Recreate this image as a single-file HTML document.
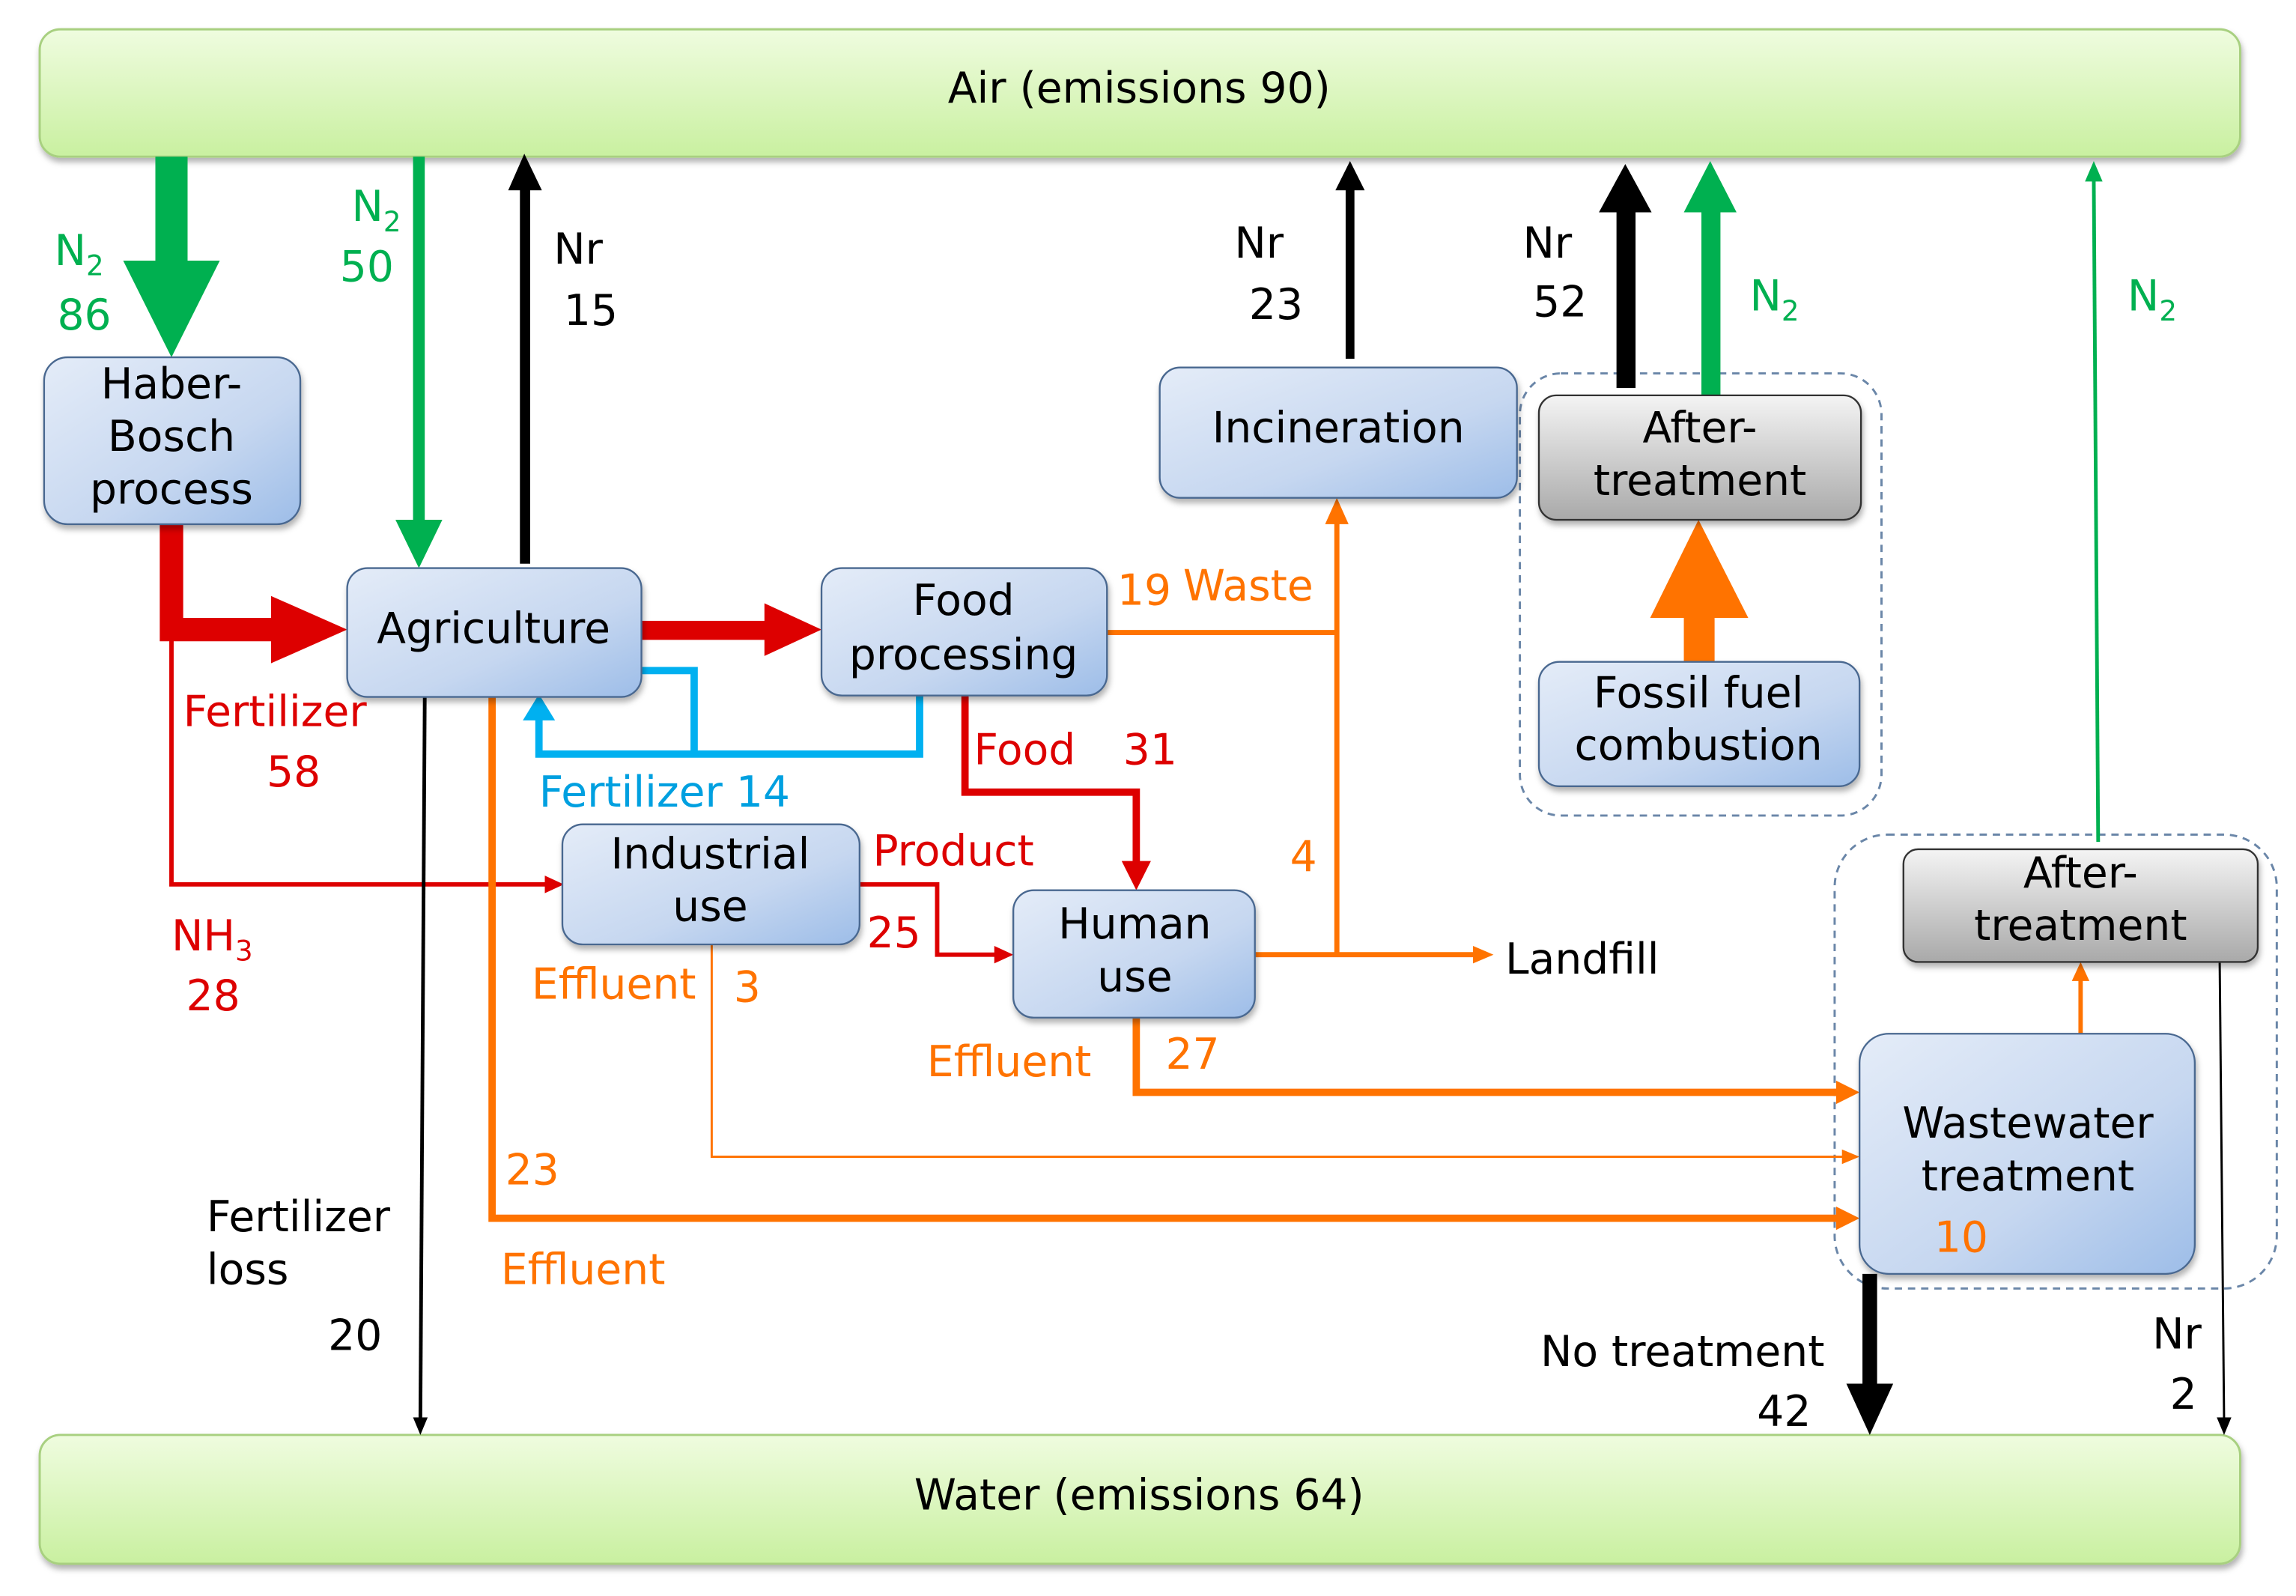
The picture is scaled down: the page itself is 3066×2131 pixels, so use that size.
<!DOCTYPE html>
<html><head><meta charset="utf-8"><style>
html,body{margin:0;padding:0;background:#fff;}
svg{display:block;}
text{font-family:"DejaVu Sans","Liberation Sans",sans-serif;font-size:29px;}
</style></head><body>
<svg width="3066" height="2131" viewBox="0 0 1568 1090" xmlns="http://www.w3.org/2000/svg">
<defs>
<linearGradient id="gr" x1="0" y1="0" x2="0" y2="1"><stop offset="0" stop-color="#effcdf"/><stop offset="1" stop-color="#c9f0a0"/></linearGradient>
<linearGradient id="bl" x1="0" y1="0" x2="1" y2="1"><stop offset="0" stop-color="#e4ecf8"/><stop offset="0.6" stop-color="#c6d7f0"/><stop offset="1" stop-color="#9dbde8"/></linearGradient>
<linearGradient id="gy" x1="0" y1="0" x2="0" y2="1"><stop offset="0" stop-color="#f4f4f4"/><stop offset="1" stop-color="#a9a9a9"/></linearGradient>
<filter id="sh" x="-10%" y="-10%" width="120%" height="130%"><feDropShadow dx="1" dy="3" stdDeviation="2" flood-color="#000" flood-opacity="0.3"/></filter>
</defs>

<!-- bars -->
<rect x="27" y="20" width="1503" height="87" rx="14" fill="url(#gr)" stroke="#a8d080" stroke-width="1.5" filter="url(#sh)"/>
<text x="778" y="70" text-anchor="middle">Air (emissions 90)</text>
<rect x="27" y="980" width="1503" height="88" rx="14" fill="url(#gr)" stroke="#a8d080" stroke-width="1.5" filter="url(#sh)"/>
<text x="778" y="1031" text-anchor="middle">Water (emissions 64)</text>

<!-- dashed groups -->
<rect x="1038" y="255" width="247" height="302" rx="28" fill="none" stroke="#6a86a8" stroke-width="1.5" stroke-dasharray="5,4"/>
<rect x="1253" y="570" width="302" height="310" rx="36" fill="none" stroke="#6a86a8" stroke-width="1.5" stroke-dasharray="5,4"/>

<!-- connectors -->
<!-- green thick N2 86 -->
<rect x="106" y="107" width="22" height="72" fill="#00b050"/>
<polygon points="84,178 150,178 117,244" fill="#00b050"/>
<!-- green N2 50 -->
<rect x="282" y="107" width="8" height="250" fill="#00b050"/>
<polygon points="270,355 302,355 286,388" fill="#00b050"/>
<!-- black Nr 15 -->
<rect x="355" y="128" width="7" height="257" fill="#000"/>
<polygon points="347,130 370,130 358,105" fill="#000"/>
<!-- red thick HB->Agri -->
<path d="M117,358 V430 H192" fill="none" stroke="#dd0000" stroke-width="16"/>
<polygon points="185,407 237,430 185,453" fill="#dd0000"/>
<!-- red thin NH3 -->
<path d="M117,430 V604 H375" fill="none" stroke="#dd0000" stroke-width="3"/>
<polygon points="372,598 385,604 372,610" fill="#dd0000"/>
<!-- red Agri->Food -->
<rect x="438" y="424" width="88" height="13" fill="#dd0000"/>
<polygon points="522,412 561,430 522,448" fill="#dd0000"/>
<!-- blue loop -->
<path d="M438,458 H474 V515 M628,475 V515 H368 V488" fill="none" stroke="#00b0f0" stroke-width="5"/>
<polygon points="357,492 379,492 368,474" fill="#00b0f0"/>
<!-- orange waste -->
<path d="M756,432 H913 M913,652 V356" fill="none" stroke="#ff7300" stroke-width="3.5"/>
<polygon points="905,358 921,358 913,340" fill="#ff7300"/>
<path d="M857,652 H1008" fill="none" stroke="#ff7300" stroke-width="3.5"/>
<polygon points="1006,646 1020,652 1006,658" fill="#ff7300"/>
<!-- red food -->
<path d="M659,475 V541 H776 V592" fill="none" stroke="#dd0000" stroke-width="5"/>
<polygon points="766,588 786,588 776,608" fill="#dd0000"/>
<!-- product -->
<path d="M587,604 H640 V652 H680" fill="none" stroke="#dd0000" stroke-width="3"/>
<polygon points="679,646 692,652 679,658" fill="#dd0000"/>
<!-- effluent 3 -->
<path d="M486,645 V790 H1260" fill="none" stroke="#ff7300" stroke-width="1.5"/>
<polygon points="1258,785 1270,790 1258,795" fill="#ff7300"/>
<!-- effluent 27 -->
<path d="M776,695 V746 H1256" fill="none" stroke="#ff7300" stroke-width="5"/>
<polygon points="1254,738 1270,746 1254,754" fill="#ff7300"/>
<!-- effluent 23 -->
<path d="M336,476 V832 H1256" fill="none" stroke="#ff7300" stroke-width="5"/>
<polygon points="1254,824 1270,832 1254,840" fill="#ff7300"/>
<!-- fertilizer loss -->
<path d="M290,476 L287,970" fill="none" stroke="#000" stroke-width="2.5"/>
<polygon points="282,968 292,968 287,980" fill="#000"/>
<!-- incineration Nr 23 -->
<rect x="919" y="128" width="6" height="117" fill="#000"/>
<polygon points="912,130 932,130 922,110" fill="#000"/>
<!-- after treatment Nr 52 / N2 -->
<rect x="1104" y="140" width="13" height="125" fill="#000"/>
<polygon points="1092,145 1128,145 1110,112" fill="#000"/>
<rect x="1162" y="140" width="13" height="130" fill="#00b050"/>
<polygon points="1150,145 1186,145 1168,110" fill="#00b050"/>
<!-- fossil orange -->
<rect x="1150" y="418" width="21" height="34" fill="#ff7300"/>
<polygon points="1127,422 1194,422 1160,355" fill="#ff7300"/>
<!-- thin green N2 -->
<path d="M1433,575 L1430,122" fill="none" stroke="#00b050" stroke-width="2.5"/>
<polygon points="1424,124 1436,124 1430,110" fill="#00b050"/>
<!-- WW up -->
<path d="M1421,706 V668" fill="none" stroke="#ff7300" stroke-width="3"/>
<polygon points="1415,670 1427,670 1421,657" fill="#ff7300"/>
<!-- no treatment -->
<rect x="1272" y="870" width="10" height="78" fill="#000"/>
<polygon points="1261,945 1293,945 1277,980" fill="#000"/>
<!-- Nr 2 -->
<path d="M1516,657 L1519,970" fill="none" stroke="#000" stroke-width="1.5"/>
<polygon points="1514,968 1524,968 1519,980" fill="#000"/>

<!-- boxes -->
<g filter="url(#sh)" stroke="#4a6890" stroke-width="1.2">
<rect x="30" y="244" width="175" height="114" rx="16" fill="url(#bl)"/>
<rect x="237" y="388" width="201" height="88" rx="14" fill="url(#bl)"/>
<rect x="561" y="388" width="195" height="87" rx="14" fill="url(#bl)"/>
<rect x="792" y="251" width="244" height="89" rx="14" fill="url(#bl)"/>
<rect x="1051" y="452" width="219" height="85" rx="14" fill="url(#bl)"/>
<rect x="384" y="563" width="203" height="82" rx="14" fill="url(#bl)"/>
<rect x="692" y="608" width="165" height="87" rx="14" fill="url(#bl)"/>
<rect x="1270" y="706" width="229" height="164" rx="20" fill="url(#bl)"/>
<rect x="1051" y="270" width="220" height="85" rx="12" fill="url(#gy)" stroke="#333"/>
<rect x="1300" y="580" width="242" height="77" rx="10" fill="url(#gy)" stroke="#333"/>
</g>

<!-- box labels -->
<g text-anchor="middle">
<text x="117" y="272">Haber-</text>
<text x="117" y="308">Bosch</text>
<text x="117" y="344">process</text>
<text x="337" y="439">Agriculture</text>
<text x="658" y="420">Food</text>
<text x="658" y="457">processing</text>
<text x="914" y="302">Incineration</text>
<text x="1161" y="302">After-</text>
<text x="1161" y="338">treatment</text>
<text x="1160" y="483">Fossil fuel</text>
<text x="1160" y="519">combustion</text>
<text x="485" y="593">Industrial</text>
<text x="485" y="629">use</text>
<text x="775" y="641">Human</text>
<text x="775" y="677">use</text>
<text x="1421" y="606">After-</text>
<text x="1421" y="642">treatment</text>
<text x="1385" y="777">Wastewater</text>
<text x="1385" y="813">treatment</text>
</g>
<text x="1321" y="855" fill="#ff7300" font-size="32">10</text>

<!-- labels -->
<g fill="#00b050">
<text x="37" y="181">N<tspan font-size="19" dy="7">2</tspan></text>
<text x="39" y="225" font-size="33">86</text>
<text x="240" y="151">N<tspan font-size="19" dy="7">2</tspan></text>
<text x="232" y="192" font-size="33">50</text>
<text x="1195" y="212">N<tspan font-size="19" dy="7">2</tspan></text>
<text x="1453" y="212">N<tspan font-size="19" dy="7">2</tspan></text>
</g>
<g fill="#000">
<text x="378" y="180">Nr</text>
<text x="385" y="222" font-size="33">15</text>
<text x="843" y="176">Nr</text>
<text x="853" y="218" font-size="33">23</text>
<text x="1040" y="176">Nr</text>
<text x="1047" y="216" font-size="33">52</text>
<text x="1028" y="665">Landfill</text>
<text x="141" y="841">Fertilizer</text>
<text x="141" y="877">loss</text>
<text x="224" y="922" font-size="33">20</text>
<text x="1052" y="933">No treatment</text>
<text x="1200" y="974" font-size="33">42</text>
<text x="1470" y="921">Nr</text>
<text x="1482" y="962" font-size="33">2</text>
</g>
<g fill="#dd0000">
<text x="125" y="496">Fertilizer</text>
<text x="182" y="537" font-size="33">58</text>
<text x="117" y="649">NH<tspan font-size="19" dy="7">3</tspan></text>
<text x="127" y="690" font-size="33">28</text>
<text x="665" y="522">Food</text>
<text x="767" y="522" font-size="33">31</text>
<text x="596" y="591">Product</text>
<text x="592" y="647" font-size="33">25</text>
</g>
<text x="368" y="551" fill="#00a0e0">Fertilizer 14</text>
<g fill="#ff7300">
<text x="763" y="413" font-size="33">19</text>
<text x="808" y="410">Waste</text>
<text x="881" y="595" font-size="33">4</text>
<text x="363" y="682">Effluent</text>
<text x="501" y="684" font-size="33">3</text>
<text x="633" y="735">Effluent</text>
<text x="796" y="730" font-size="33">27</text>
<text x="345" y="809" font-size="33">23</text>
<text x="342" y="877">Effluent</text>
</g>
</svg>
</body></html>
